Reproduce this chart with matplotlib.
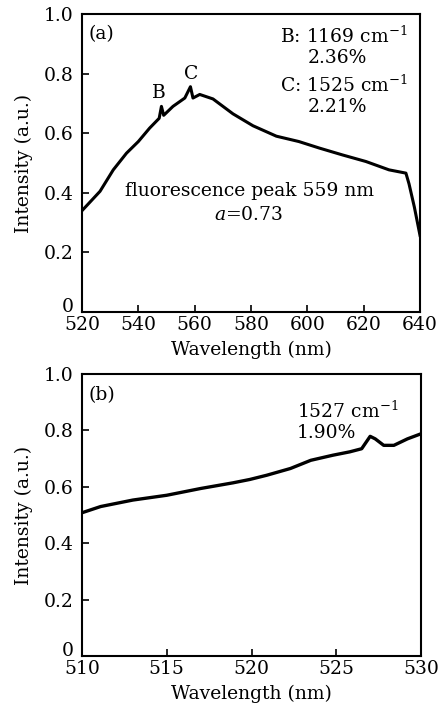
import matplotlib
matplotlib.use("Agg")
import matplotlib.pyplot as plt
from matplotlib.transforms import ScaledTranslation

# Panel (a) data
wl_a = [520, 526.4, 531.1, 535.8, 540, 544, 547.4, 548.2, 549.0, 552.3, 556.5,
        558.5, 559.4, 561.8, 566.5, 573.6, 580.7, 589, 597, 604.3, 612.5,
        620.8, 629, 635, 636.1, 638, 640]
int_a = [0.34, 0.405, 0.477, 0.533, 0.572, 0.617, 0.65, 0.69, 0.66, 0.69, 0.718,
         0.756, 0.718, 0.73, 0.715, 0.665, 0.625, 0.59, 0.572, 0.55, 0.527,
         0.505, 0.477, 0.466, 0.43, 0.352, 0.257]

# Panel (b) data
wl_b = [510, 511.1, 513, 515, 517, 518.9, 519.9, 520.9, 522.3, 523.5, 524.8,
        525.8, 526.5, 527.0, 527.3, 527.8, 528.4, 529.2, 530]
int_b = [0.508, 0.53, 0.553, 0.57, 0.594, 0.614, 0.626, 0.641, 0.665, 0.694, 0.712,
         0.724, 0.735, 0.779, 0.77, 0.747, 0.747, 0.77, 0.788]

xticks_a = [520, 540, 560, 580, 600, 620, 640]
xticks_b = [510, 515, 520, 525, 530]
yticks = [0, 0.2, 0.4, 0.6, 0.8, 1.0]
ytick_labels = ["0", "0.2", "0.4", "0.6", "0.8", "1.0"]

plt.rcParams['font.family'] = ['DejaVu Serif']
plt.rcParams['mathtext.fontset'] = 'dejavuserif'

fig = plt.figure(figsize=(4.4, 7.08), dpi=100)
W, H = 440, 708
ax1 = fig.add_axes([82 / W, 1 - 312 / H, 338 / W, 298 / H])
ax2 = fig.add_axes([82 / W, 1 - 656 / H, 339 / W, 282 / H])

fs = 13.5
for ax, xt in ((ax1, xticks_a), (ax2, xticks_b)):
    ax.set_yticks(yticks)
    ax.set_yticklabels(ytick_labels)
    ax.set_xticks(xt)
    ax.set_ylim(0, 1.0)
    ax.tick_params(direction='in', length=5, width=1.2, labelsize=fs,
                   top=False, right=False)
    ax.tick_params(axis='y', pad=6)
    ax.tick_params(axis='x', pad=3)
    for s in ax.spines.values():
        s.set_linewidth(1.5)
    ax.set_xlabel("Wavelength (nm)", fontsize=fs, labelpad=5)
    ax.set_ylabel("Intensity (a.u.)", fontsize=fs, labelpad=8)
    lab0 = ax.get_yticklabels()[0]
    lab0.set_transform(lab0.get_transform() + ScaledTranslation(0, 5 / 72, fig.dpi_scale_trans))

ax1.plot(wl_a, int_a, color='black', lw=2.2)
ax1.set_xlim(520, 640)
ax2.plot(wl_b, int_b, color='black', lw=2.4)
ax2.set_xlim(510, 530)

tfs = 13.5
ax1.text(0.02, 0.916, "(a)", transform=ax1.transAxes, fontsize=tfs, va='baseline')
ax1.text(0.586, 0.903, "B: 1169 cm$^{-1}$", transform=ax1.transAxes, fontsize=tfs, va='baseline')
ax1.text(0.669, 0.836, "2.36%", transform=ax1.transAxes, fontsize=tfs, va='baseline')
ax1.text(0.586, 0.738, "C: 1525 cm$^{-1}$", transform=ax1.transAxes, fontsize=tfs, va='baseline')
ax1.text(0.669, 0.671, "2.21%", transform=ax1.transAxes, fontsize=tfs, va='baseline')
ax1.text(547.3, 0.735, "B", fontsize=tfs, ha='center', va='center')
ax1.text(558.7, 0.80, "C", fontsize=tfs, ha='center', va='center')
ax1.text(579.6, 0.389, "fluorescence peak 559 nm", fontsize=tfs, ha='center', va='baseline')
ax1.text(579.3, 0.309, "$a$=0.73", fontsize=tfs, ha='center', va='baseline')

ax2.text(0.02, 0.908, "(b)", transform=ax2.transAxes, fontsize=tfs, va='baseline')
ax2.text(0.634, 0.844, "1527 cm$^{-1}$", transform=ax2.transAxes, fontsize=tfs, va='baseline')
ax2.text(0.634, 0.773, "1.90%", transform=ax2.transAxes, fontsize=tfs, va='baseline')

fig.savefig("out.png", dpi=100)
